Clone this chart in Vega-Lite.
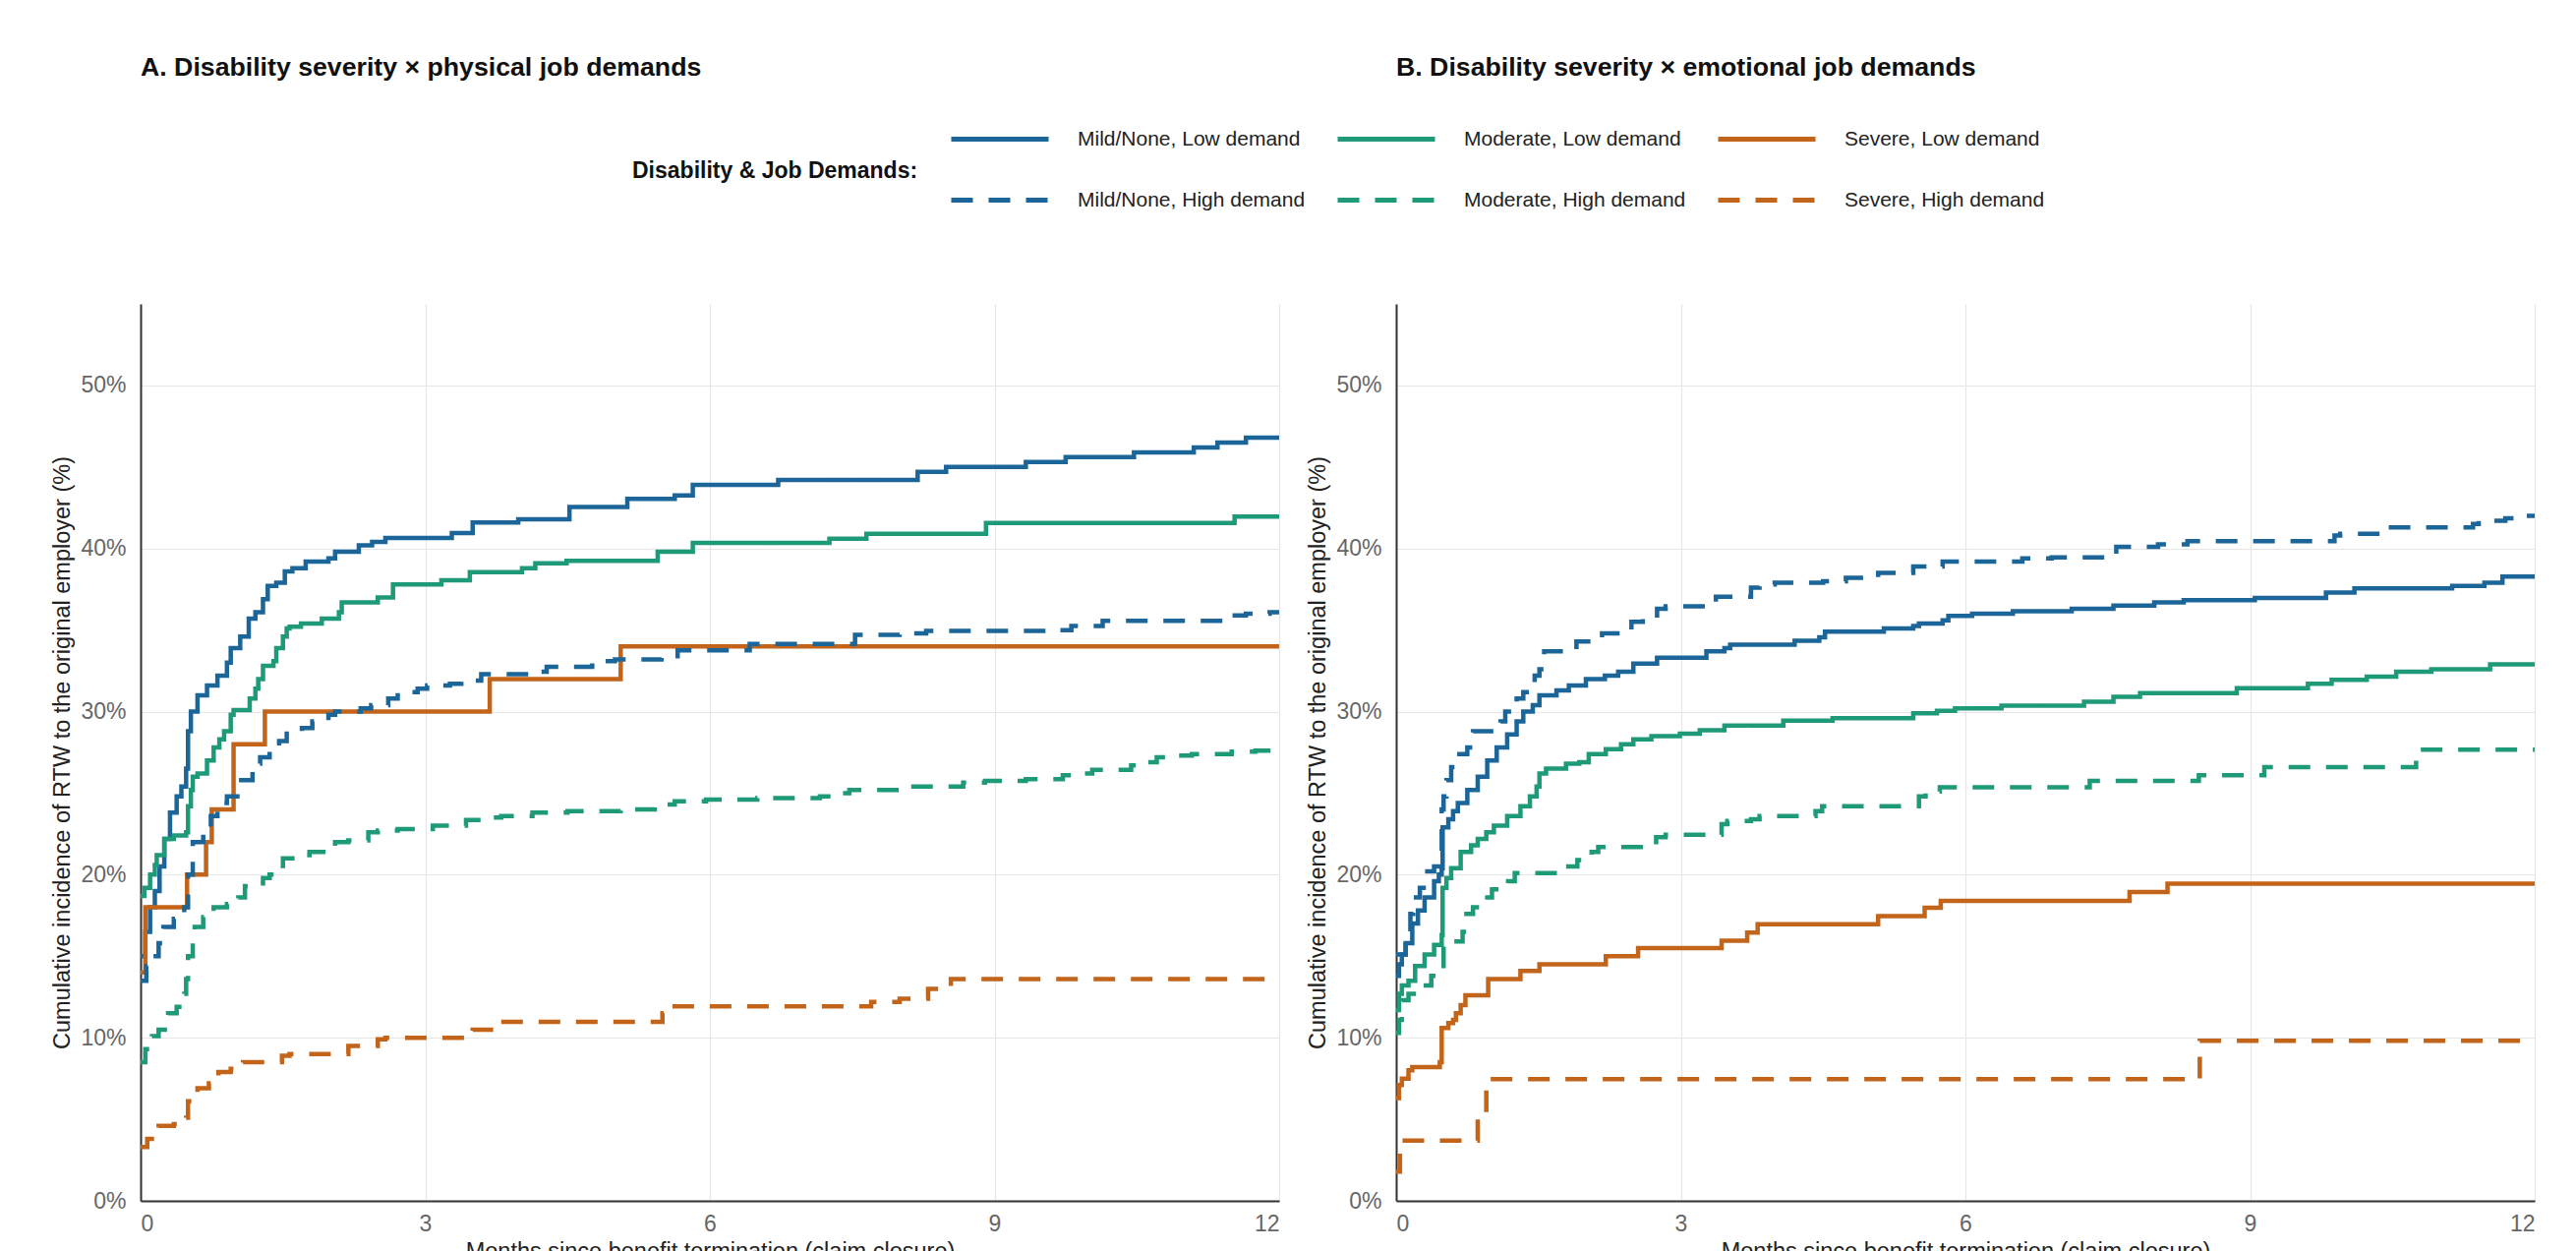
{
"$schema": "https://vega.github.io/schema/vega-lite/v6.json",
"padding": {"left": 51, "top": 55, "right": 5, "bottom": 0},
"background": "white",
"config": {
  "font": "Liberation Sans",
  "view": {"stroke": null},
  "axis": {"grid": true, "gridColor": "#e6e6e6", "gridWidth": 1.2, "domainColor": "#333333", "domainWidth": 2, "ticks": false, "labelFontSize": 23, "labelColor": "#666666", "titleFontSize": 23.5, "titleFontWeight": "normal", "titleColor": "#222222", "labelPadding": 15, "titlePadding": 6},
  "title": {"fontSize": 26.7, "fontWeight": "bold", "anchor": "start", "frame": "group", "color": "#111111", "offset": 226.5},
  "legend": {"orient": "none", "legendX": 500, "legendY": -219.5, "direction": "horizontal", "columns": 3, "symbolType": "stroke", "symbolSize": 9801, "symbolStrokeWidth": 5, "labelFontSize": 21, "labelColor": "#222222", "labelOffset": 27, "columnPadding": 22, "rowPadding": -29, "titleOrient": "left", "titleFontSize": 23, "titleFontWeight": "bold", "titleColor": "#111111", "titlePadding": 31, "titleAnchor": "middle", "titleBaseline": "line-top", "titleLineHeight": 44, "titleLimit": 0, "labelLimit": 0}
},
"resolve": {"scale": {"color": "shared", "strokeDash": "shared"}},
"spacing": 27,
"data": {"values": [
{"panel":"A","g":"Mild/None, Low demand","m":0,"p":15.0},{"panel":"A","g":"Mild/None, Low demand","m":0.05,"p":16.5},{"panel":"A","g":"Mild/None, Low demand","m":0.1,"p":18.0},{"panel":"A","g":"Mild/None, Low demand","m":0.15,"p":19.0},{"panel":"A","g":"Mild/None, Low demand","m":0.2,"p":20.5},{"panel":"A","g":"Mild/None, Low demand","m":0.25,"p":22.2},{"panel":"A","g":"Mild/None, Low demand","m":0.31,"p":23.8},{"panel":"A","g":"Mild/None, Low demand","m":0.38,"p":24.8},{"panel":"A","g":"Mild/None, Low demand","m":0.43,"p":25.4},{"panel":"A","g":"Mild/None, Low demand","m":0.48,"p":26.5},{"panel":"A","g":"Mild/None, Low demand","m":0.5,"p":28.8},{"panel":"A","g":"Mild/None, Low demand","m":0.53,"p":30.0},{"panel":"A","g":"Mild/None, Low demand","m":0.6,"p":31.0},{"panel":"A","g":"Mild/None, Low demand","m":0.7,"p":31.6},{"panel":"A","g":"Mild/None, Low demand","m":0.81,"p":32.2},{"panel":"A","g":"Mild/None, Low demand","m":0.91,"p":33.0},{"panel":"A","g":"Mild/None, Low demand","m":0.95,"p":33.9},{"panel":"A","g":"Mild/None, Low demand","m":1.05,"p":34.6},{"panel":"A","g":"Mild/None, Low demand","m":1.14,"p":35.7},{"panel":"A","g":"Mild/None, Low demand","m":1.21,"p":36.1},{"panel":"A","g":"Mild/None, Low demand","m":1.29,"p":36.9},{"panel":"A","g":"Mild/None, Low demand","m":1.34,"p":37.7},{"panel":"A","g":"Mild/None, Low demand","m":1.43,"p":37.9},{"panel":"A","g":"Mild/None, Low demand","m":1.52,"p":38.6},{"panel":"A","g":"Mild/None, Low demand","m":1.6,"p":38.8},{"panel":"A","g":"Mild/None, Low demand","m":1.74,"p":39.2},{"panel":"A","g":"Mild/None, Low demand","m":1.98,"p":39.4},{"panel":"A","g":"Mild/None, Low demand","m":2.05,"p":39.8},{"panel":"A","g":"Mild/None, Low demand","m":2.3,"p":40.2},{"panel":"A","g":"Mild/None, Low demand","m":2.44,"p":40.4},{"panel":"A","g":"Mild/None, Low demand","m":2.58,"p":40.65},{"panel":"A","g":"Mild/None, Low demand","m":3.28,"p":40.95},{"panel":"A","g":"Mild/None, Low demand","m":3.5,"p":41.6},{"panel":"A","g":"Mild/None, Low demand","m":3.98,"p":41.8},{"panel":"A","g":"Mild/None, Low demand","m":4.52,"p":42.55},{"panel":"A","g":"Mild/None, Low demand","m":5.13,"p":43.05},{"panel":"A","g":"Mild/None, Low demand","m":5.63,"p":43.25},{"panel":"A","g":"Mild/None, Low demand","m":5.82,"p":43.9},{"panel":"A","g":"Mild/None, Low demand","m":6.72,"p":44.2},{"panel":"A","g":"Mild/None, Low demand","m":8.19,"p":44.7},{"panel":"A","g":"Mild/None, Low demand","m":8.49,"p":45.0},{"panel":"A","g":"Mild/None, Low demand","m":9.33,"p":45.3},{"panel":"A","g":"Mild/None, Low demand","m":9.75,"p":45.6},{"panel":"A","g":"Mild/None, Low demand","m":10.47,"p":45.9},{"panel":"A","g":"Mild/None, Low demand","m":11.1,"p":46.2},{"panel":"A","g":"Mild/None, Low demand","m":11.35,"p":46.5},{"panel":"A","g":"Mild/None, Low demand","m":11.65,"p":46.8},{"panel":"A","g":"Mild/None, Low demand","m":12,"p":46.8},
{"panel":"A","g":"Moderate, Low demand","m":0,"p":18.7},{"panel":"A","g":"Moderate, Low demand","m":0.04,"p":19.2},{"panel":"A","g":"Moderate, Low demand","m":0.1,"p":20.0},{"panel":"A","g":"Moderate, Low demand","m":0.15,"p":20.6},{"panel":"A","g":"Moderate, Low demand","m":0.17,"p":21.2},{"panel":"A","g":"Moderate, Low demand","m":0.25,"p":22.2},{"panel":"A","g":"Moderate, Low demand","m":0.35,"p":22.4},{"panel":"A","g":"Moderate, Low demand","m":0.48,"p":22.6},{"panel":"A","g":"Moderate, Low demand","m":0.5,"p":24.2},{"panel":"A","g":"Moderate, Low demand","m":0.53,"p":25.2},{"panel":"A","g":"Moderate, Low demand","m":0.55,"p":26.0},{"panel":"A","g":"Moderate, Low demand","m":0.6,"p":26.2},{"panel":"A","g":"Moderate, Low demand","m":0.7,"p":27.0},{"panel":"A","g":"Moderate, Low demand","m":0.77,"p":27.8},{"panel":"A","g":"Moderate, Low demand","m":0.83,"p":28.3},{"panel":"A","g":"Moderate, Low demand","m":0.88,"p":28.8},{"panel":"A","g":"Moderate, Low demand","m":0.95,"p":29.8},{"panel":"A","g":"Moderate, Low demand","m":0.98,"p":30.1},{"panel":"A","g":"Moderate, Low demand","m":1.15,"p":30.8},{"panel":"A","g":"Moderate, Low demand","m":1.21,"p":31.4},{"panel":"A","g":"Moderate, Low demand","m":1.24,"p":32.0},{"panel":"A","g":"Moderate, Low demand","m":1.29,"p":32.8},{"panel":"A","g":"Moderate, Low demand","m":1.4,"p":33.1},{"panel":"A","g":"Moderate, Low demand","m":1.43,"p":33.9},{"panel":"A","g":"Moderate, Low demand","m":1.5,"p":34.6},{"panel":"A","g":"Moderate, Low demand","m":1.54,"p":35.1},{"panel":"A","g":"Moderate, Low demand","m":1.57,"p":35.2},{"panel":"A","g":"Moderate, Low demand","m":1.69,"p":35.4},{"panel":"A","g":"Moderate, Low demand","m":1.91,"p":35.7},{"panel":"A","g":"Moderate, Low demand","m":2.09,"p":36.1},{"panel":"A","g":"Moderate, Low demand","m":2.12,"p":36.7},{"panel":"A","g":"Moderate, Low demand","m":2.5,"p":37.0},{"panel":"A","g":"Moderate, Low demand","m":2.66,"p":37.8},{"panel":"A","g":"Moderate, Low demand","m":3.17,"p":38.05},{"panel":"A","g":"Moderate, Low demand","m":3.47,"p":38.55},{"panel":"A","g":"Moderate, Low demand","m":4.02,"p":38.8},{"panel":"A","g":"Moderate, Low demand","m":4.16,"p":39.1},{"panel":"A","g":"Moderate, Low demand","m":4.49,"p":39.25},{"panel":"A","g":"Moderate, Low demand","m":5.45,"p":39.8},{"panel":"A","g":"Moderate, Low demand","m":5.82,"p":40.35},{"panel":"A","g":"Moderate, Low demand","m":7.26,"p":40.6},{"panel":"A","g":"Moderate, Low demand","m":7.65,"p":40.9},{"panel":"A","g":"Moderate, Low demand","m":8.91,"p":41.56},{"panel":"A","g":"Moderate, Low demand","m":11.53,"p":41.96},{"panel":"A","g":"Moderate, Low demand","m":12,"p":41.96},
{"panel":"A","g":"Severe, Low demand","m":0,"p":14.0},{"panel":"A","g":"Severe, Low demand","m":0.05,"p":18.0},{"panel":"A","g":"Severe, Low demand","m":0.49,"p":20.0},{"panel":"A","g":"Severe, Low demand","m":0.69,"p":22.0},{"panel":"A","g":"Severe, Low demand","m":0.75,"p":24.0},{"panel":"A","g":"Severe, Low demand","m":0.98,"p":28.0},{"panel":"A","g":"Severe, Low demand","m":1.31,"p":30.0},{"panel":"A","g":"Severe, Low demand","m":3.68,"p":32.0},{"panel":"A","g":"Severe, Low demand","m":5.06,"p":34.0},{"panel":"A","g":"Severe, Low demand","m":12,"p":34.0},
{"panel":"A","g":"Mild/None, High demand","m":0,"p":13.5},{"panel":"A","g":"Mild/None, High demand","m":0.06,"p":14.4},{"panel":"A","g":"Mild/None, High demand","m":0.12,"p":15.0},{"panel":"A","g":"Mild/None, High demand","m":0.19,"p":15.8},{"panel":"A","g":"Mild/None, High demand","m":0.24,"p":16.8},{"panel":"A","g":"Mild/None, High demand","m":0.35,"p":17.3},{"panel":"A","g":"Mild/None, High demand","m":0.46,"p":18.0},{"panel":"A","g":"Mild/None, High demand","m":0.5,"p":20.0},{"panel":"A","g":"Mild/None, High demand","m":0.55,"p":22.0},{"panel":"A","g":"Mild/None, High demand","m":0.66,"p":22.6},{"panel":"A","g":"Mild/None, High demand","m":0.74,"p":23.6},{"panel":"A","g":"Mild/None, High demand","m":0.81,"p":24.4},{"panel":"A","g":"Mild/None, High demand","m":0.91,"p":24.8},{"panel":"A","g":"Mild/None, High demand","m":1.02,"p":25.8},{"panel":"A","g":"Mild/None, High demand","m":1.18,"p":26.8},{"panel":"A","g":"Mild/None, High demand","m":1.26,"p":27.2},{"panel":"A","g":"Mild/None, High demand","m":1.36,"p":27.8},{"panel":"A","g":"Mild/None, High demand","m":1.46,"p":28.2},{"panel":"A","g":"Mild/None, High demand","m":1.54,"p":28.8},{"panel":"A","g":"Mild/None, High demand","m":1.7,"p":29.0},{"panel":"A","g":"Mild/None, High demand","m":1.81,"p":29.4},{"panel":"A","g":"Mild/None, High demand","m":1.98,"p":29.8},{"panel":"A","g":"Mild/None, High demand","m":2.05,"p":30.0},{"panel":"A","g":"Mild/None, High demand","m":2.32,"p":30.2},{"panel":"A","g":"Mild/None, High demand","m":2.43,"p":30.4},{"panel":"A","g":"Mild/None, High demand","m":2.61,"p":30.8},{"panel":"A","g":"Mild/None, High demand","m":2.71,"p":31.2},{"panel":"A","g":"Mild/None, High demand","m":2.92,"p":31.4},{"panel":"A","g":"Mild/None, High demand","m":3.02,"p":31.6},{"panel":"A","g":"Mild/None, High demand","m":3.26,"p":31.7},{"panel":"A","g":"Mild/None, High demand","m":3.38,"p":31.9},{"panel":"A","g":"Mild/None, High demand","m":3.59,"p":32.3},{"panel":"A","g":"Mild/None, High demand","m":4.1,"p":32.45},{"panel":"A","g":"Mild/None, High demand","m":4.28,"p":32.75},{"panel":"A","g":"Mild/None, High demand","m":4.76,"p":33.1},{"panel":"A","g":"Mild/None, High demand","m":5.0,"p":33.2},{"panel":"A","g":"Mild/None, High demand","m":5.49,"p":33.4},{"panel":"A","g":"Mild/None, High demand","m":5.66,"p":33.75},{"panel":"A","g":"Mild/None, High demand","m":6.42,"p":34.15},{"panel":"A","g":"Mild/None, High demand","m":7.53,"p":34.7},{"panel":"A","g":"Mild/None, High demand","m":8.0,"p":34.8},{"panel":"A","g":"Mild/None, High demand","m":8.28,"p":34.95},{"panel":"A","g":"Mild/None, High demand","m":9.63,"p":35.0},{"panel":"A","g":"Mild/None, High demand","m":9.81,"p":35.25},{"panel":"A","g":"Mild/None, High demand","m":10.14,"p":35.56},{"panel":"A","g":"Mild/None, High demand","m":11.45,"p":35.9},{"panel":"A","g":"Mild/None, High demand","m":11.65,"p":36.0},{"panel":"A","g":"Mild/None, High demand","m":11.9,"p":36.1},{"panel":"A","g":"Mild/None, High demand","m":12,"p":36.1},
{"panel":"A","g":"Moderate, High demand","m":0,"p":8.5},{"panel":"A","g":"Moderate, High demand","m":0.05,"p":9.3},{"panel":"A","g":"Moderate, High demand","m":0.12,"p":10.1},{"panel":"A","g":"Moderate, High demand","m":0.19,"p":10.5},{"panel":"A","g":"Moderate, High demand","m":0.29,"p":11.5},{"panel":"A","g":"Moderate, High demand","m":0.38,"p":11.9},{"panel":"A","g":"Moderate, High demand","m":0.46,"p":12.7},{"panel":"A","g":"Moderate, High demand","m":0.48,"p":13.6},{"panel":"A","g":"Moderate, High demand","m":0.5,"p":15.0},{"panel":"A","g":"Moderate, High demand","m":0.55,"p":15.8},{"panel":"A","g":"Moderate, High demand","m":0.57,"p":16.8},{"panel":"A","g":"Moderate, High demand","m":0.66,"p":17.4},{"panel":"A","g":"Moderate, High demand","m":0.77,"p":18.0},{"panel":"A","g":"Moderate, High demand","m":0.91,"p":18.2},{"panel":"A","g":"Moderate, High demand","m":1.03,"p":18.6},{"panel":"A","g":"Moderate, High demand","m":1.1,"p":19.3},{"panel":"A","g":"Moderate, High demand","m":1.29,"p":19.8},{"panel":"A","g":"Moderate, High demand","m":1.36,"p":20.0},{"panel":"A","g":"Moderate, High demand","m":1.5,"p":21.0},{"panel":"A","g":"Moderate, High demand","m":1.6,"p":21.2},{"panel":"A","g":"Moderate, High demand","m":1.78,"p":21.4},{"panel":"A","g":"Moderate, High demand","m":2.05,"p":22.0},{"panel":"A","g":"Moderate, High demand","m":2.19,"p":22.1},{"panel":"A","g":"Moderate, High demand","m":2.4,"p":22.6},{"panel":"A","g":"Moderate, High demand","m":2.5,"p":22.7},{"panel":"A","g":"Moderate, High demand","m":2.71,"p":22.8},{"panel":"A","g":"Moderate, High demand","m":3.08,"p":23.0},{"panel":"A","g":"Moderate, High demand","m":3.43,"p":23.35},{"panel":"A","g":"Moderate, High demand","m":3.59,"p":23.5},{"panel":"A","g":"Moderate, High demand","m":3.8,"p":23.6},{"panel":"A","g":"Moderate, High demand","m":4.13,"p":23.8},{"panel":"A","g":"Moderate, High demand","m":4.5,"p":23.9},{"panel":"A","g":"Moderate, High demand","m":5.06,"p":24.0},{"panel":"A","g":"Moderate, High demand","m":5.42,"p":24.3},{"panel":"A","g":"Moderate, High demand","m":5.63,"p":24.5},{"panel":"A","g":"Moderate, High demand","m":5.96,"p":24.6},{"panel":"A","g":"Moderate, High demand","m":6.5,"p":24.7},{"panel":"A","g":"Moderate, High demand","m":7.16,"p":24.8},{"panel":"A","g":"Moderate, High demand","m":7.29,"p":25.0},{"panel":"A","g":"Moderate, High demand","m":7.47,"p":25.2},{"panel":"A","g":"Moderate, High demand","m":8.0,"p":25.4},{"panel":"A","g":"Moderate, High demand","m":8.67,"p":25.65},{"panel":"A","g":"Moderate, High demand","m":8.9,"p":25.75},{"panel":"A","g":"Moderate, High demand","m":9.33,"p":25.85},{"panel":"A","g":"Moderate, High demand","m":9.72,"p":26.1},{"panel":"A","g":"Moderate, High demand","m":9.84,"p":26.2},{"panel":"A","g":"Moderate, High demand","m":10.03,"p":26.43},{"panel":"A","g":"Moderate, High demand","m":10.44,"p":26.7},{"panel":"A","g":"Moderate, High demand","m":10.5,"p":26.9},{"panel":"A","g":"Moderate, High demand","m":10.71,"p":27.2},{"panel":"A","g":"Moderate, High demand","m":10.86,"p":27.3},{"panel":"A","g":"Moderate, High demand","m":11.08,"p":27.4},{"panel":"A","g":"Moderate, High demand","m":11.5,"p":27.55},{"panel":"A","g":"Moderate, High demand","m":11.75,"p":27.6},{"panel":"A","g":"Moderate, High demand","m":12,"p":27.6},
{"panel":"A","g":"Severe, High demand","m":0,"p":3.3},{"panel":"A","g":"Severe, High demand","m":0.07,"p":3.8},{"panel":"A","g":"Severe, High demand","m":0.19,"p":4.6},{"panel":"A","g":"Severe, High demand","m":0.35,"p":4.7},{"panel":"A","g":"Severe, High demand","m":0.48,"p":5.1},{"panel":"A","g":"Severe, High demand","m":0.5,"p":6.1},{"panel":"A","g":"Severe, High demand","m":0.6,"p":6.9},{"panel":"A","g":"Severe, High demand","m":0.72,"p":7.2},{"panel":"A","g":"Severe, High demand","m":0.82,"p":7.9},{"panel":"A","g":"Severe, High demand","m":0.95,"p":8.1},{"panel":"A","g":"Severe, High demand","m":1.08,"p":8.5},{"panel":"A","g":"Severe, High demand","m":1.49,"p":8.9},{"panel":"A","g":"Severe, High demand","m":1.57,"p":9.0},{"panel":"A","g":"Severe, High demand","m":2.19,"p":9.5},{"panel":"A","g":"Severe, High demand","m":2.5,"p":9.9},{"panel":"A","g":"Severe, High demand","m":2.58,"p":10.0},{"panel":"A","g":"Severe, High demand","m":3.5,"p":10.5},{"panel":"A","g":"Severe, High demand","m":3.8,"p":10.97},{"panel":"A","g":"Severe, High demand","m":5.5,"p":11.5},{"panel":"A","g":"Severe, High demand","m":5.6,"p":11.93},{"panel":"A","g":"Severe, High demand","m":7.7,"p":12.2},{"panel":"A","g":"Severe, High demand","m":8.0,"p":12.4},{"panel":"A","g":"Severe, High demand","m":8.3,"p":13.0},{"panel":"A","g":"Severe, High demand","m":8.54,"p":13.6},{"panel":"A","g":"Severe, High demand","m":12,"p":13.6},
{"panel":"B","g":"Mild/None, Low demand","m":0,"p":13.8},{"panel":"B","g":"Mild/None, Low demand","m":0.03,"p":14.5},{"panel":"B","g":"Mild/None, Low demand","m":0.06,"p":15.1},{"panel":"B","g":"Mild/None, Low demand","m":0.1,"p":15.8},{"panel":"B","g":"Mild/None, Low demand","m":0.17,"p":17.0},{"panel":"B","g":"Mild/None, Low demand","m":0.23,"p":17.8},{"panel":"B","g":"Mild/None, Low demand","m":0.3,"p":18.6},{"panel":"B","g":"Mild/None, Low demand","m":0.4,"p":19.6},{"panel":"B","g":"Mild/None, Low demand","m":0.45,"p":20.0},{"panel":"B","g":"Mild/None, Low demand","m":0.48,"p":20.4},{"panel":"B","g":"Mild/None, Low demand","m":0.49,"p":22.9},{"panel":"B","g":"Mild/None, Low demand","m":0.55,"p":23.4},{"panel":"B","g":"Mild/None, Low demand","m":0.6,"p":23.9},{"panel":"B","g":"Mild/None, Low demand","m":0.65,"p":24.4},{"panel":"B","g":"Mild/None, Low demand","m":0.75,"p":25.2},{"panel":"B","g":"Mild/None, Low demand","m":0.86,"p":26.0},{"panel":"B","g":"Mild/None, Low demand","m":0.96,"p":27.0},{"panel":"B","g":"Mild/None, Low demand","m":1.06,"p":27.8},{"panel":"B","g":"Mild/None, Low demand","m":1.17,"p":28.6},{"panel":"B","g":"Mild/None, Low demand","m":1.27,"p":29.4},{"panel":"B","g":"Mild/None, Low demand","m":1.34,"p":30.0},{"panel":"B","g":"Mild/None, Low demand","m":1.44,"p":30.4},{"panel":"B","g":"Mild/None, Low demand","m":1.51,"p":31.0},{"panel":"B","g":"Mild/None, Low demand","m":1.69,"p":31.3},{"panel":"B","g":"Mild/None, Low demand","m":1.82,"p":31.6},{"panel":"B","g":"Mild/None, Low demand","m":2.0,"p":32.0},{"panel":"B","g":"Mild/None, Low demand","m":2.2,"p":32.2},{"panel":"B","g":"Mild/None, Low demand","m":2.34,"p":32.45},{"panel":"B","g":"Mild/None, Low demand","m":2.5,"p":32.95},{"panel":"B","g":"Mild/None, Low demand","m":2.75,"p":33.3},{"panel":"B","g":"Mild/None, Low demand","m":3.27,"p":33.7},{"panel":"B","g":"Mild/None, Low demand","m":3.46,"p":33.9},{"panel":"B","g":"Mild/None, Low demand","m":3.52,"p":34.1},{"panel":"B","g":"Mild/None, Low demand","m":4.2,"p":34.35},{"panel":"B","g":"Mild/None, Low demand","m":4.46,"p":34.55},{"panel":"B","g":"Mild/None, Low demand","m":4.52,"p":34.9},{"panel":"B","g":"Mild/None, Low demand","m":5.14,"p":35.1},{"panel":"B","g":"Mild/None, Low demand","m":5.45,"p":35.25},{"panel":"B","g":"Mild/None, Low demand","m":5.51,"p":35.4},{"panel":"B","g":"Mild/None, Low demand","m":5.76,"p":35.6},{"panel":"B","g":"Mild/None, Low demand","m":5.82,"p":35.87},{"panel":"B","g":"Mild/None, Low demand","m":6.07,"p":36.0},{"panel":"B","g":"Mild/None, Low demand","m":6.5,"p":36.15},{"panel":"B","g":"Mild/None, Low demand","m":7.12,"p":36.3},{"panel":"B","g":"Mild/None, Low demand","m":7.56,"p":36.5},{"panel":"B","g":"Mild/None, Low demand","m":7.99,"p":36.7},{"panel":"B","g":"Mild/None, Low demand","m":8.3,"p":36.83},{"panel":"B","g":"Mild/None, Low demand","m":9.05,"p":36.97},{"panel":"B","g":"Mild/None, Low demand","m":9.8,"p":37.3},{"panel":"B","g":"Mild/None, Low demand","m":10.1,"p":37.55},{"panel":"B","g":"Mild/None, Low demand","m":11.13,"p":37.7},{"panel":"B","g":"Mild/None, Low demand","m":11.47,"p":37.9},{"panel":"B","g":"Mild/None, Low demand","m":11.66,"p":38.28},{"panel":"B","g":"Mild/None, Low demand","m":12,"p":38.28},
{"panel":"B","g":"Moderate, Low demand","m":0,"p":11.7},{"panel":"B","g":"Moderate, Low demand","m":0.03,"p":12.7},{"panel":"B","g":"Moderate, Low demand","m":0.06,"p":13.2},{"panel":"B","g":"Moderate, Low demand","m":0.13,"p":13.5},{"panel":"B","g":"Moderate, Low demand","m":0.2,"p":14.4},{"panel":"B","g":"Moderate, Low demand","m":0.3,"p":15.1},{"panel":"B","g":"Moderate, Low demand","m":0.4,"p":15.7},{"panel":"B","g":"Moderate, Low demand","m":0.48,"p":16.3},{"panel":"B","g":"Moderate, Low demand","m":0.49,"p":19.2},{"panel":"B","g":"Moderate, Low demand","m":0.53,"p":19.8},{"panel":"B","g":"Moderate, Low demand","m":0.58,"p":20.4},{"panel":"B","g":"Moderate, Low demand","m":0.68,"p":21.4},{"panel":"B","g":"Moderate, Low demand","m":0.79,"p":21.8},{"panel":"B","g":"Moderate, Low demand","m":0.86,"p":22.2},{"panel":"B","g":"Moderate, Low demand","m":0.95,"p":22.6},{"panel":"B","g":"Moderate, Low demand","m":1.03,"p":23.0},{"panel":"B","g":"Moderate, Low demand","m":1.17,"p":23.6},{"panel":"B","g":"Moderate, Low demand","m":1.31,"p":24.2},{"panel":"B","g":"Moderate, Low demand","m":1.41,"p":24.8},{"panel":"B","g":"Moderate, Low demand","m":1.48,"p":25.4},{"panel":"B","g":"Moderate, Low demand","m":1.51,"p":26.2},{"panel":"B","g":"Moderate, Low demand","m":1.58,"p":26.5},{"panel":"B","g":"Moderate, Low demand","m":1.79,"p":26.8},{"panel":"B","g":"Moderate, Low demand","m":1.93,"p":26.9},{"panel":"B","g":"Moderate, Low demand","m":2.03,"p":27.4},{"panel":"B","g":"Moderate, Low demand","m":2.21,"p":27.7},{"panel":"B","g":"Moderate, Low demand","m":2.37,"p":28.0},{"panel":"B","g":"Moderate, Low demand","m":2.5,"p":28.3},{"panel":"B","g":"Moderate, Low demand","m":2.69,"p":28.5},{"panel":"B","g":"Moderate, Low demand","m":2.99,"p":28.65},{"panel":"B","g":"Moderate, Low demand","m":3.2,"p":28.85},{"panel":"B","g":"Moderate, Low demand","m":3.46,"p":29.15},{"panel":"B","g":"Moderate, Low demand","m":4.08,"p":29.45},{"panel":"B","g":"Moderate, Low demand","m":4.6,"p":29.6},{"panel":"B","g":"Moderate, Low demand","m":5.45,"p":29.9},{"panel":"B","g":"Moderate, Low demand","m":5.7,"p":30.05},{"panel":"B","g":"Moderate, Low demand","m":5.89,"p":30.2},{"panel":"B","g":"Moderate, Low demand","m":6.38,"p":30.37},{"panel":"B","g":"Moderate, Low demand","m":7.25,"p":30.6},{"panel":"B","g":"Moderate, Low demand","m":7.56,"p":30.9},{"panel":"B","g":"Moderate, Low demand","m":7.84,"p":31.14},{"panel":"B","g":"Moderate, Low demand","m":8.86,"p":31.44},{"panel":"B","g":"Moderate, Low demand","m":9.61,"p":31.7},{"panel":"B","g":"Moderate, Low demand","m":9.86,"p":31.95},{"panel":"B","g":"Moderate, Low demand","m":10.23,"p":32.15},{"panel":"B","g":"Moderate, Low demand","m":10.54,"p":32.45},{"panel":"B","g":"Moderate, Low demand","m":10.91,"p":32.6},{"panel":"B","g":"Moderate, Low demand","m":11.53,"p":32.9},{"panel":"B","g":"Moderate, Low demand","m":12,"p":32.9},
{"panel":"B","g":"Severe, Low demand","m":0,"p":6.3},{"panel":"B","g":"Severe, Low demand","m":0.03,"p":7.1},{"panel":"B","g":"Severe, Low demand","m":0.06,"p":7.5},{"panel":"B","g":"Severe, Low demand","m":0.13,"p":8.0},{"panel":"B","g":"Severe, Low demand","m":0.17,"p":8.2},{"panel":"B","g":"Severe, Low demand","m":0.46,"p":8.5},{"panel":"B","g":"Severe, Low demand","m":0.48,"p":10.6},{"panel":"B","g":"Severe, Low demand","m":0.55,"p":10.9},{"panel":"B","g":"Severe, Low demand","m":0.6,"p":11.1},{"panel":"B","g":"Severe, Low demand","m":0.63,"p":11.5},{"panel":"B","g":"Severe, Low demand","m":0.68,"p":12.0},{"panel":"B","g":"Severe, Low demand","m":0.73,"p":12.6},{"panel":"B","g":"Severe, Low demand","m":0.97,"p":13.6},{"panel":"B","g":"Severe, Low demand","m":1.31,"p":14.1},{"panel":"B","g":"Severe, Low demand","m":1.51,"p":14.5},{"panel":"B","g":"Severe, Low demand","m":2.21,"p":15.0},{"panel":"B","g":"Severe, Low demand","m":2.55,"p":15.5},{"panel":"B","g":"Severe, Low demand","m":3.43,"p":15.95},{"panel":"B","g":"Severe, Low demand","m":3.7,"p":16.45},{"panel":"B","g":"Severe, Low demand","m":3.81,"p":16.96},{"panel":"B","g":"Severe, Low demand","m":5.08,"p":17.46},{"panel":"B","g":"Severe, Low demand","m":5.57,"p":17.97},{"panel":"B","g":"Severe, Low demand","m":5.74,"p":18.4},{"panel":"B","g":"Severe, Low demand","m":7.73,"p":18.93},{"panel":"B","g":"Severe, Low demand","m":8.13,"p":19.45},{"panel":"B","g":"Severe, Low demand","m":12,"p":19.45},
{"panel":"B","g":"Mild/None, High demand","m":0,"p":15.1},{"panel":"B","g":"Mild/None, High demand","m":0.1,"p":16.5},{"panel":"B","g":"Mild/None, High demand","m":0.15,"p":17.6},{"panel":"B","g":"Mild/None, High demand","m":0.18,"p":18.6},{"panel":"B","g":"Mild/None, High demand","m":0.25,"p":19.2},{"panel":"B","g":"Mild/None, High demand","m":0.29,"p":20.2},{"panel":"B","g":"Mild/None, High demand","m":0.4,"p":20.5},{"panel":"B","g":"Mild/None, High demand","m":0.47,"p":20.6},{"panel":"B","g":"Mild/None, High demand","m":0.48,"p":24.0},{"panel":"B","g":"Mild/None, High demand","m":0.5,"p":24.8},{"panel":"B","g":"Mild/None, High demand","m":0.53,"p":25.8},{"panel":"B","g":"Mild/None, High demand","m":0.58,"p":26.6},{"panel":"B","g":"Mild/None, High demand","m":0.63,"p":27.4},{"panel":"B","g":"Mild/None, High demand","m":0.75,"p":27.8},{"panel":"B","g":"Mild/None, High demand","m":0.81,"p":28.8},{"panel":"B","g":"Mild/None, High demand","m":1.1,"p":29.4},{"panel":"B","g":"Mild/None, High demand","m":1.15,"p":30.0},{"panel":"B","g":"Mild/None, High demand","m":1.27,"p":30.8},{"panel":"B","g":"Mild/None, High demand","m":1.34,"p":31.2},{"panel":"B","g":"Mild/None, High demand","m":1.46,"p":32.2},{"panel":"B","g":"Mild/None, High demand","m":1.51,"p":32.6},{"panel":"B","g":"Mild/None, High demand","m":1.56,"p":33.7},{"panel":"B","g":"Mild/None, High demand","m":1.9,"p":34.3},{"panel":"B","g":"Mild/None, High demand","m":2.17,"p":34.8},{"panel":"B","g":"Mild/None, High demand","m":2.48,"p":35.5},{"panel":"B","g":"Mild/None, High demand","m":2.6,"p":35.7},{"panel":"B","g":"Mild/None, High demand","m":2.75,"p":36.3},{"panel":"B","g":"Mild/None, High demand","m":2.84,"p":36.45},{"panel":"B","g":"Mild/None, High demand","m":3.37,"p":37.05},{"panel":"B","g":"Mild/None, High demand","m":3.74,"p":37.6},{"panel":"B","g":"Mild/None, High demand","m":3.83,"p":37.8},{"panel":"B","g":"Mild/None, High demand","m":3.99,"p":37.9},{"panel":"B","g":"Mild/None, High demand","m":4.5,"p":38.0},{"panel":"B","g":"Mild/None, High demand","m":4.74,"p":38.2},{"panel":"B","g":"Mild/None, High demand","m":5.08,"p":38.5},{"panel":"B","g":"Mild/None, High demand","m":5.45,"p":38.9},{"panel":"B","g":"Mild/None, High demand","m":5.76,"p":39.2},{"panel":"B","g":"Mild/None, High demand","m":6.6,"p":39.4},{"panel":"B","g":"Mild/None, High demand","m":6.91,"p":39.45},{"panel":"B","g":"Mild/None, High demand","m":7.59,"p":40.1},{"panel":"B","g":"Mild/None, High demand","m":8.03,"p":40.25},{"panel":"B","g":"Mild/None, High demand","m":8.34,"p":40.45},{"panel":"B","g":"Mild/None, High demand","m":9.89,"p":40.8},{"panel":"B","g":"Mild/None, High demand","m":9.95,"p":40.9},{"panel":"B","g":"Mild/None, High demand","m":10.41,"p":41.3},{"panel":"B","g":"Mild/None, High demand","m":11.35,"p":41.5},{"panel":"B","g":"Mild/None, High demand","m":11.41,"p":41.7},{"panel":"B","g":"Mild/None, High demand","m":11.69,"p":41.85},{"panel":"B","g":"Mild/None, High demand","m":11.85,"p":42.0},{"panel":"B","g":"Mild/None, High demand","m":12,"p":42.0},
{"panel":"B","g":"Moderate, High demand","m":0,"p":10.3},{"panel":"B","g":"Moderate, High demand","m":0.03,"p":11.1},{"panel":"B","g":"Moderate, High demand","m":0.06,"p":12.3},{"panel":"B","g":"Moderate, High demand","m":0.13,"p":12.7},{"panel":"B","g":"Moderate, High demand","m":0.27,"p":13.2},{"panel":"B","g":"Moderate, High demand","m":0.37,"p":13.8},{"panel":"B","g":"Moderate, High demand","m":0.46,"p":14.4},{"panel":"B","g":"Moderate, High demand","m":0.5,"p":15.6},{"panel":"B","g":"Moderate, High demand","m":0.6,"p":15.9},{"panel":"B","g":"Moderate, High demand","m":0.7,"p":16.5},{"panel":"B","g":"Moderate, High demand","m":0.74,"p":17.6},{"panel":"B","g":"Moderate, High demand","m":0.81,"p":18.0},{"panel":"B","g":"Moderate, High demand","m":0.92,"p":18.6},{"panel":"B","g":"Moderate, High demand","m":1.01,"p":19.1},{"panel":"B","g":"Moderate, High demand","m":1.18,"p":19.6},{"panel":"B","g":"Moderate, High demand","m":1.25,"p":20.1},{"panel":"B","g":"Moderate, High demand","m":1.79,"p":20.5},{"panel":"B","g":"Moderate, High demand","m":1.91,"p":20.9},{"panel":"B","g":"Moderate, High demand","m":2.06,"p":21.4},{"panel":"B","g":"Moderate, High demand","m":2.13,"p":21.7},{"panel":"B","g":"Moderate, High demand","m":2.74,"p":22.3},{"panel":"B","g":"Moderate, High demand","m":2.84,"p":22.45},{"panel":"B","g":"Moderate, High demand","m":3.43,"p":23.1},{"panel":"B","g":"Moderate, High demand","m":3.49,"p":23.3},{"panel":"B","g":"Moderate, High demand","m":3.74,"p":23.4},{"panel":"B","g":"Moderate, High demand","m":3.83,"p":23.6},{"panel":"B","g":"Moderate, High demand","m":4.42,"p":23.9},{"panel":"B","g":"Moderate, High demand","m":4.49,"p":24.2},{"panel":"B","g":"Moderate, High demand","m":5.51,"p":24.8},{"panel":"B","g":"Moderate, High demand","m":5.58,"p":25.1},{"panel":"B","g":"Moderate, High demand","m":5.73,"p":25.36},{"panel":"B","g":"Moderate, High demand","m":7.31,"p":25.75},{"panel":"B","g":"Moderate, High demand","m":8.46,"p":26.1},{"panel":"B","g":"Moderate, High demand","m":9.15,"p":26.6},{"panel":"B","g":"Moderate, High demand","m":10.75,"p":27.66},{"panel":"B","g":"Moderate, High demand","m":12,"p":27.66},
{"panel":"B","g":"Severe, High demand","m":0,"p":1.8},{"panel":"B","g":"Severe, High demand","m":0.04,"p":3.7},{"panel":"B","g":"Severe, High demand","m":0.86,"p":5.0},{"panel":"B","g":"Severe, High demand","m":0.95,"p":7.46},{"panel":"B","g":"Severe, High demand","m":8.47,"p":9.82},{"panel":"B","g":"Severe, High demand","m":12,"p":9.82}
]},
"hconcat": [
 {
  "title": "A. Disability severity × physical job demands",
  "width": 1158, "height": 912,
  "transform": [{"filter": "datum.panel === 'A'"}],
  "mark": {"type": "line", "interpolate": "step-after", "strokeWidth": 4.5, "clip": true},
  "encoding": {
   "x": {"field": "m", "type": "quantitative", "scale": {"domain": [0, 12], "nice": false}, "axis": {"values": [0, 3, 6, 9, 12], "title": "Months since benefit termination (claim closure)", "labelPadding": 12, "titlePadding": 4}},
   "y": {"field": "p", "type": "quantitative", "scale": {"domain": [0, 55], "nice": false}, "axis": {"values": [0, 10, 20, 30, 40, 50], "labelExpr": "datum.value + '%'", "title": "Cumulative incidence of RTW to the original employer (%)"}},
   "color": {"field": "g", "type": "nominal", "title": "Disability & Job Demands:", "scale": {"domain": ["Mild/None, Low demand", "Moderate, Low demand", "Severe, Low demand", "Mild/None, High demand", "Moderate, High demand", "Severe, High demand"], "range": ["#1b6598", "#1f9a78", "#c2651a", "#1b6598", "#1f9a78", "#c2651a"]}},
   "strokeDash": {"field": "g", "type": "nominal", "title": "Disability & Job Demands:", "scale": {"domain": ["Mild/None, Low demand", "Moderate, Low demand", "Severe, Low demand", "Mild/None, High demand", "Moderate, High demand", "Severe, High demand"], "range": [[1, 0], [1, 0], [1, 0], [22, 16], [22, 16], [22, 16]]}}
  }
 },
 {
  "title": "B. Disability severity × emotional job demands",
  "width": 1158, "height": 912,
  "transform": [{"filter": "datum.panel === 'B'"}],
  "mark": {"type": "line", "interpolate": "step-after", "strokeWidth": 4.5, "clip": true},
  "encoding": {
   "x": {"field": "m", "type": "quantitative", "scale": {"domain": [0, 12], "nice": false}, "axis": {"values": [0, 3, 6, 9, 12], "title": "Months since benefit termination (claim closure)", "labelPadding": 12, "titlePadding": 4}},
   "y": {"field": "p", "type": "quantitative", "scale": {"domain": [0, 55], "nice": false}, "axis": {"values": [0, 10, 20, 30, 40, 50], "labelExpr": "datum.value + '%'", "title": "Cumulative incidence of RTW to the original employer (%)"}},
   "color": {"field": "g", "type": "nominal", "title": "Disability & Job Demands:", "scale": {"domain": ["Mild/None, Low demand", "Moderate, Low demand", "Severe, Low demand", "Mild/None, High demand", "Moderate, High demand", "Severe, High demand"], "range": ["#1b6598", "#1f9a78", "#c2651a", "#1b6598", "#1f9a78", "#c2651a"]}},
   "strokeDash": {"field": "g", "type": "nominal", "title": "Disability & Job Demands:", "scale": {"domain": ["Mild/None, Low demand", "Moderate, Low demand", "Severe, Low demand", "Mild/None, High demand", "Moderate, High demand", "Severe, High demand"], "range": [[1, 0], [1, 0], [1, 0], [22, 16], [22, 16], [22, 16]]}}
  }
 }
]
}
